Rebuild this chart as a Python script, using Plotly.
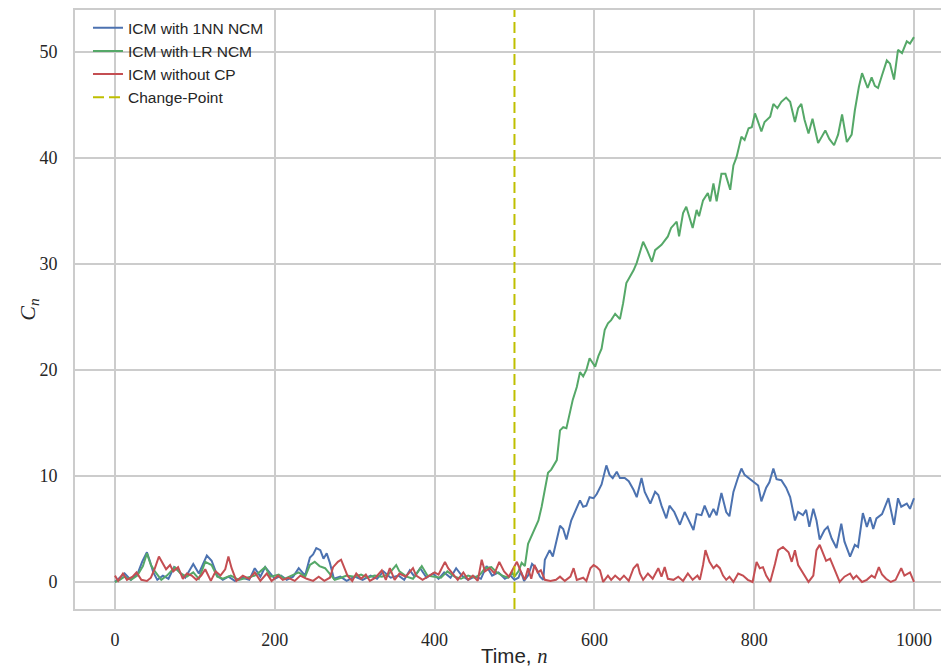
import plotly.graph_objects as go

# ---------------- data ----------------
nn_x = [0,5,12,20,29,34,40,44,48,53,60,67,74,80,88,98,105,115,121,128,135,142,150,160,168,175,182,188,195,200,
        208,215,223,230,238,244,248,252,257,261,265,269,274,282,290,300,310,320,328,336,345,355,362,369,375,382,
        390,398,405,412,420,427,434,442,450,458,465,472,480,488,495,500,505,508,512,517,522,527,532,536,538,544,
        548,555,557,561,565,571,576,582,586,590,594,599,603,609,615,619,623,628,632,638,643,649,653,659,663,670,
        676,680,684,690,694,700,707,713,717,724,728,734,738,744,749,753,759,765,769,774,780,784,788,795,801,805,
        809,815,819,824,828,834,840,845,851,855,861,865,869,874,878,882,888,892,897,903,909,913,920,926,930,936,
        941,945,949,953,960,968,975,980,984,991,995,1000]
nn_y = [0,0.3,0.8,0.2,0.9,1.9,2.8,1.9,0.9,0.2,0.6,0.3,1.4,1.0,0.4,1.7,0.8,2.5,2.0,0.6,0.2,0.5,0.1,0.4,0.2,1.3,0.5,
        1.4,0.8,0.3,0.6,0.2,0.5,1.3,0.6,2.3,2.6,3.2,3.0,2.2,2.7,1.8,0.3,0.5,0.1,0.5,0.2,0.6,0.3,1.0,0.4,0.6,0.2,
        1.1,0.5,1.3,0.4,0.8,0.3,0.9,0.4,1.3,0.6,0.2,0.5,0.3,1.5,0.6,0.9,0.3,0.6,0.2,0.4,1.0,0.1,0.6,1.7,1.3,0.5,
        0.2,2.1,3.0,2.4,4.9,5.3,5.0,4.0,5.8,6.6,7.7,7.1,7.2,8.0,7.9,8.3,9.2,11.0,10.1,9.8,10.4,9.8,9.8,9.5,8.7,
        8.0,9.8,8.5,7.4,8.5,8.2,7.2,6.0,7.2,6.6,5.4,6.6,6.0,4.9,6.4,6.3,7.2,6.1,6.9,6.3,8.4,6.6,6.2,8.5,9.9,10.7,
        10.1,9.7,9.4,9.1,7.6,8.9,9.4,10.7,9.7,9.6,8.9,8.0,5.8,6.6,6.3,6.8,5.2,6.9,5.8,4.0,4.9,5.2,4.1,3.2,5.5,3.8,
        2.4,3.5,3.3,6.5,5.2,6.1,5.0,6.0,6.4,7.9,5.4,7.9,7.1,7.4,6.9,7.9]

lr_x = [0,6,12,20,28,35,40,45,50,58,65,75,82,90,98,105,113,121,128,135,145,155,165,175,182,188,195,205,212,220,
        230,238,244,250,256,263,269,275,283,290,300,308,316,325,334,342,352,356,365,373,384,391,400,408,416,425,
        433,442,450,457,463,471,478,485,492,497,500,505,509,513,517,523,530,534,540,542,546,553,557,561,565,569,
        573,578,582,586,590,594,601,605,609,613,617,621,626,632,636,640,645,649,653,657,661,666,672,676,684,692,
        696,703,706,711,715,723,728,731,736,742,745,749,753,759,764,770,774,778,782,784,788,793,797,801,804,809,
        813,820,824,829,834,840,845,851,855,859,863,868,873,880,889,894,900,905,910,916,922,926,931,935,942,947,
        951,955,960,966,970,975,980,985,991,995,1000]
lr_y = [0,0.2,0.5,0.2,0.6,1.5,2.7,1.6,1.0,0.2,0.6,1.4,0.8,0.5,0.9,0.3,1.9,1.6,0.5,0.3,0.6,0.2,0.4,0.6,1.0,1.4,0.5,
        0.7,0.3,0.6,0.9,0.5,1.6,1.9,1.5,1.3,0.7,0.2,0.4,0.6,0.5,0.7,0.4,0.6,0.5,0.7,1.6,1.0,0.5,0.3,1.5,0.6,0.5,
        0.4,1.0,0.5,0.3,0.6,0.4,0.7,1.3,1.4,0.9,0.6,0.4,0.9,0.5,1.0,1.8,1.5,3.6,4.6,5.8,7.1,9.3,10.3,10.6,11.5,
        14.3,14.6,14.5,15.8,17.2,18.4,19.8,19.4,20.0,21.1,20.3,21.3,22.0,23.8,24.4,24.7,25.3,24.8,26.3,28.2,28.8,
        29.4,30.1,31.0,32.1,31.3,30.2,31.3,31.8,32.6,33.4,34.0,32.6,34.8,35.4,33.4,35.1,34.5,36.0,36.7,35.9,37.6,
        35.9,38.5,38.5,37.0,39.3,40.1,41.4,42.0,41.7,42.8,42.9,44.2,43.6,42.5,43.4,43.9,45.1,44.7,45.3,45.7,45.3,
        43.4,44.7,45.1,43.6,42.3,43.7,41.4,42.6,41.8,41.2,42.2,44.1,41.5,42.2,44.5,46.7,48.0,46.6,47.6,46.8,46.6,
        47.8,49.2,48.9,47.4,50.2,49.9,51.0,50.8,51.4]

nocp_x = [0,4,10,15,22,27,33,40,45,50,55,59,64,69,73,79,85,90,96,102,108,113,120,126,132,138,142,146,152,160,
          168,175,182,190,196,204,210,217,225,232,240,248,255,262,269,273,279,283,287,291,297,302,308,314,319,326,
          334,339,344,350,356,364,373,377,385,392,400,405,413,417,423,429,436,442,448,454,459,463,469,475,481,487,
          493,499,503,509,513,517,521,525,529,533,538,545,552,557,563,570,574,578,586,590,595,599,603,607,611,617,
          621,626,632,637,643,649,654,657,661,667,673,680,684,688,692,699,705,711,717,723,729,732,736,739,744,749,
          753,757,761,765,769,774,780,786,792,798,803,807,811,815,820,826,830,836,843,847,851,855,861,868,874,878,
          882,886,890,895,899,903,907,913,920,924,928,935,941,947,951,956,960,965,971,977,984,988,995,1000]
nocp_y = [0.6,0.1,0.8,0.2,0.5,0.9,0.2,0.1,0.4,1.3,2.4,1.8,1.2,1.6,1.0,1.4,0.3,0.8,0.6,0.2,0.6,1.2,0.1,1.0,0.6,
          1.2,2.4,1.3,0.1,0.6,0.3,0.9,0.1,0.8,0.1,0.6,0.2,0.4,0.1,0.6,0.3,0.1,0.5,0.1,0.4,1.4,1.9,2.1,1.3,0.6,0.1,
          0.8,0.3,0.7,0.1,0.4,1.1,0.2,1.3,0.2,0.8,0.5,1.3,0.6,0.2,0.5,0.9,0.7,1.9,1.3,0.8,0.2,0.9,0.2,0.6,0.1,2.1,
          1.0,1.3,0.8,1.9,1.0,0.5,1.4,1.9,0.8,0.2,1.3,0.3,1.6,0.9,1.1,0.2,0.1,0.2,0.5,0.1,0.5,1.3,0.2,0.4,0.1,1.3,
          1.6,1.4,1.1,0.0,0.6,0.2,0.6,0.2,0.6,0.1,1.3,1.7,0.8,0.2,0.8,0.3,1.3,0.5,1.4,0.3,0.2,0.5,0.1,0.8,0.2,0.6,
          0.2,1.6,3.0,1.9,1.3,1.6,1.3,0.6,0.2,0.5,0.0,0.8,0.6,0.2,0.0,1.9,1.3,1.4,0.6,0.0,1.7,3.0,3.3,2.8,1.9,3.0,
          1.6,0.9,0.0,0.6,3.0,3.5,2.7,2.0,2.2,1.4,0.8,0.0,0.5,0.8,0.3,0.6,0.0,0.2,0.6,0.4,1.4,0.7,0.3,0.0,0.2,1.3,
          0.6,0.9,0.0]

change_point = 500
x_ticks = [0, 200, 400, 600, 800, 1000]
y_ticks = [0, 10, 20, 30, 40, 50]
x_range = [-50, 1033.8]
y_range = [-2.55, 53.96]

series_names = ["ICM with 1NN NCM", "ICM with LR NCM", "ICM without CP", "Change-Point"]
colors = ["#4C72B0", "#55A868", "#C44E52", "#BFBF00"]

# ---------------- figure ----------------
fig = go.Figure()
fig.add_trace(go.Scatter(x=nn_x, y=nn_y, mode="lines", name=series_names[0],
                         line=dict(color=colors[0], width=2)))
fig.add_trace(go.Scatter(x=lr_x, y=lr_y, mode="lines", name=series_names[1],
                         line=dict(color=colors[1], width=2)))
fig.add_trace(go.Scatter(x=nocp_x, y=nocp_y, mode="lines", name=series_names[2],
                         line=dict(color=colors[2], width=2)))
fig.add_trace(go.Scatter(x=[change_point, change_point], y=y_range, mode="lines", name=series_names[3],
                         line=dict(color=colors[3], width=2, dash="11px,5px")))

grid = "#cccccc"
tick_font = dict(family="Liberation Serif, DejaVu Serif, serif", size=18, color="#262626")

fig.update_layout(
    width=941, height=669,
    margin=dict(l=75, r=0, t=10, b=60),
    paper_bgcolor="white", plot_bgcolor="white",
    showlegend=True,
    legend=dict(x=0.015, y=0.998, xanchor="left", yanchor="top", bgcolor="rgba(0,0,0,0)",
                font=dict(family="Liberation Sans, Arial, sans-serif", size=15.5, color="#262626"),
                tracegroupgap=0, itemwidth=30),
    xaxis=dict(range=x_range, tickvals=x_ticks, ticktext=[str(v) for v in x_ticks],
               showgrid=True, gridcolor=grid, gridwidth=1.6, zeroline=False,
               showline=True, linecolor=grid, linewidth=1.6, mirror=True,
               ticks="", ticklabelstandoff=14, tickfont=tick_font, automargin=False),
    yaxis=dict(range=y_range, tickvals=y_ticks, ticktext=[str(v) for v in y_ticks],
               showgrid=True, gridcolor=grid, gridwidth=1.6, zeroline=False,
               showline=True, linecolor=grid, linewidth=1.6, mirror=False,
               ticks="", ticklabelstandoff=12, tickfont=tick_font, automargin=False),
    annotations=[
        dict(text="Time, <i style='font-family:Liberation Serif'>n</i>", x=500, xref="x", y=-0.078, yref="paper",
             xanchor="center", yanchor="middle", showarrow=False,
             font=dict(family="Liberation Sans, Arial, sans-serif", size=20.5, color="#262626")),
        dict(text="<i>C<sub>n</sub></i>", x=-0.054, xref="paper", y=25.7, yref="y",
             xanchor="center", yanchor="middle", showarrow=False, textangle=-90,
             font=dict(family="Liberation Serif, DejaVu Serif, serif", size=22, color="#262626")),
    ],
)

fig.write_html("out.html", config={"displayModeBar": False},
               post_script="document.body.style.margin='0';document.body.style.overflow='hidden';")
